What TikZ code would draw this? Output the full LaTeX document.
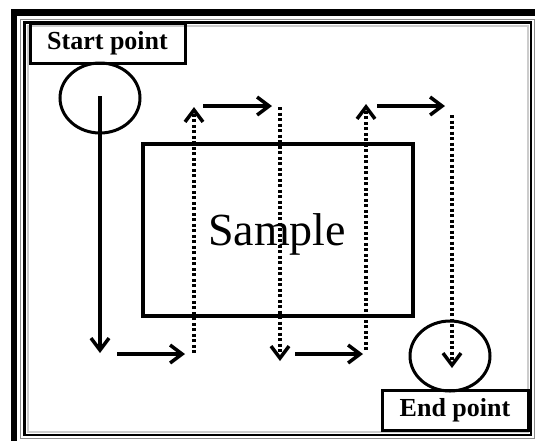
\documentclass[tikz,border=0pt]{standalone}
\usepackage{fontspec}
\setmainfont{Liberation Serif}
\usepackage{tikz}
\usetikzlibrary{arrows.meta,shapes.geometric}
\tikzstyle{label box}=[draw,line width=3pt,inner sep=0pt,font=\bfseries\fontsize{26}{30}\selectfont]
\tikzstyle{point}=[ellipse,draw,line width=3pt,minimum width=80pt,minimum height=70pt,inner sep=0pt]
\tikzstyle{sample box}=[draw,line width=3.5pt,minimum width=270pt,minimum height=172pt,inner sep=0pt]
\tikzstyle{move}=[draw,line width=3.5pt,-{Straight Barb[length=12pt,width=18pt]}]
\tikzstyle{scan}=[move,dash pattern=on 3pt off 2.5pt]

\begin{document}
\begin{tikzpicture}[x=1pt,y=-1pt]
          \useasboundingbox (0,0) rectangle (535,440);
          % frame
          \draw[line width=6.5pt] (14,12.5) rectangle (545,450);
          \draw[line width=1pt,black!45] (20.5,19) rectangle (534,438);
          \draw[line width=2.5pt] (24.5,22.5) rectangle (531,435);
          \draw[line width=2pt,black!20] (27.5,25.5) rectangle (528,432);
          % boxes
          \node[sample box] (sample) at (278,230) {};
          \node[font=\fontsize{46}{50}\selectfont] (word) at (277,234) {Sample};
          \node[label box,minimum width=155pt,minimum height=40pt] (startlbl) at (107.5,43) {Start point};
          \node[point] (start) at (100,98) {};
          \node[point] (end) at (450,356) {};
          \node[label box,minimum width=146pt,minimum height=40pt] (endlbl) at (455,410) {End point};
          % path
          \coordinate (d1) at (100,353);
          \coordinate (b1s) at (117,354);
          \coordinate (b1e) at (185,354);
          \coordinate (u1s) at (194,353);
          \coordinate (u1e) at (194,107);
          \coordinate (t1s) at (203,106);
          \coordinate (t1e) at (272,106);
          \coordinate (d2s) at (280,107);
          \coordinate (d2e) at (280,361);
          \coordinate (b2s) at (295,354);
          \coordinate (b2e) at (363,354);
          \coordinate (u3s) at (366,350);
          \coordinate (u3e) at (366,104);
          \coordinate (t3s) at (377,106);
          \coordinate (t3e) at (445,106);
          \coordinate (d4s) at (452,115);
          \coordinate (d4e) at (452,368);
          \draw[move] ([yshift=2pt]start.center) -- (d1);
          \draw[move] (b1s) -- (b1e);
          \draw[scan] (u1s) -- (u1e);
          \draw[move] (t1s) -- (t1e);
          \draw[scan] (d2s) -- (d2e);
          \draw[move] (b2s) -- (b2e);
          \draw[scan] (u3s) -- (u3e);
          \draw[move] (t3s) -- (t3e);
          \draw[scan] (d4s) -- (d4e);
\end{tikzpicture}
\end{document}
